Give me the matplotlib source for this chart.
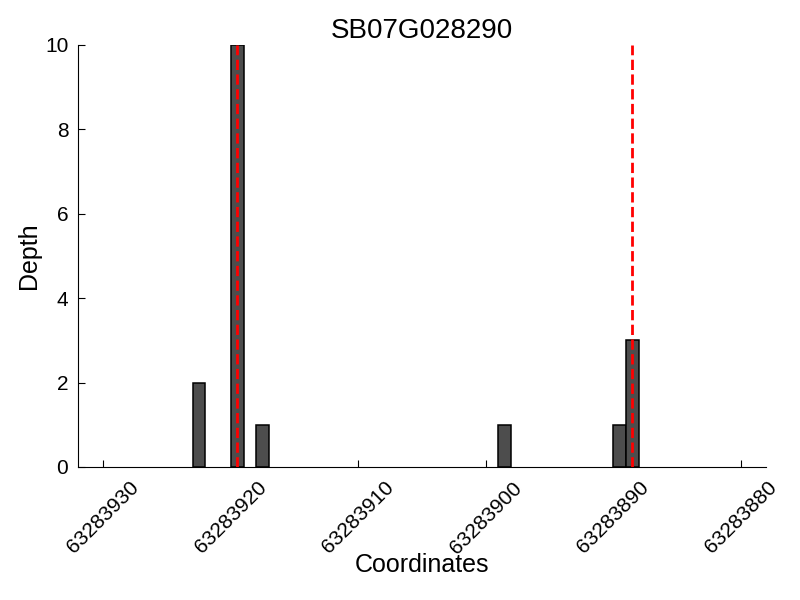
import matplotlib
matplotlib.use('Agg')
import matplotlib.pyplot as plt

plt.rcParams['font.family'] = ['Liberation Sans', 'DejaVu Sans']

# === DATA ===
gene = 'SB07G028290'
positions = [63283922, 63283919, 63283917, 63283898, 63283889, 63283888]
depths = [2, 10, 1, 1, 1, 3]
markers = [63283919.5, 63283888.5]   # red dashed reference lines
xticks = [63283930, 63283920, 63283910, 63283900, 63283890, 63283880]
yticks = [0, 2, 4, 6, 8, 10]

fig = plt.figure(figsize=(8, 6), dpi=100)
ax = fig.add_axes([0.0975, 0.2217, 0.86, 0.7033])

ax.bar(positions, depths, width=1, align='edge', color='#4d4d4d',
       edgecolor='black', linewidth=1.1, zorder=2)
for m in markers:
    ax.axvline(m, color='red', linestyle='--', linewidth=2, zorder=3)

ax.set_xlim(63283932, 63283878)
ax.set_ylim(0, 10)
ax.set_xticks(xticks)
ax.set_yticks(yticks)
ax.ticklabel_format(axis='x', useOffset=False, style='plain')
ax.tick_params(direction='in', labelsize=15, length=5, width=0.8, pad=7)
ax.tick_params(axis='x', labelrotation=45, pad=8)

ax.spines['top'].set_visible(False)
ax.spines['right'].set_visible(False)
ax.xaxis.set_ticks_position('bottom')
ax.yaxis.set_ticks_position('left')

ax.set_title(gene, fontsize=20, pad=5)
ax.set_xlabel('Coordinates', fontsize=18, labelpad=-3)
ax.set_ylabel('Depth', fontsize=18, labelpad=3)

fig.savefig('out.png', dpi=100)
